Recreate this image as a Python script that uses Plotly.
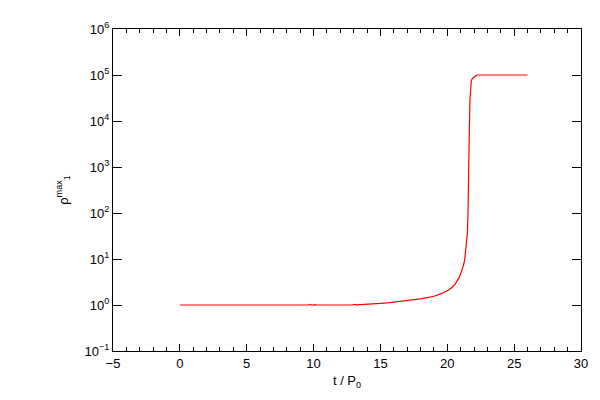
import plotly.graph_objects as go

t = [0.0, 1.3, 1.4, 1.5, 5.0, 9.6, 9.75, 9.9, 10.05, 10.2, 12.9, 13.05, 13.2, 14.0, 15.0, 15.5, 16.0, 16.5,
     17.0, 17.5, 18.0, 18.5, 19.0, 19.5, 20.0, 20.3, 20.6, 20.9, 21.1, 21.2, 21.3, 21.4,
     21.5, 21.55, 21.6, 21.65, 21.7, 21.75, 21.8, 21.9, 22.0, 22.1, 22.2, 26.0]
rho = [1.0, 1.0, 0.985, 1.0, 1.0, 1.0, 1.03, 0.99, 1.02, 1.0, 1.0, 1.03, 1.01, 1.03, 1.08, 1.11, 1.15, 1.2,
       1.25, 1.3, 1.36, 1.45, 1.55, 1.74, 2.04, 2.34, 2.88, 3.98, 5.6, 7.1, 9.5, 17.8,
       35.5, 100.0, 400.0, 6300.0, 31600.0, 63000.0, 76000.0, 85000.0, 91000.0, 95500.0, 100000.0, 100000.0]

y_tickvals = [1e-1, 1e0, 1e1, 1e2, 1e3, 1e4, 1e5, 1e6]
y_ticktext = ["10<sup>\u22121</sup>", "10<sup>0</sup>", "10<sup>1</sup>", "10<sup>2</sup>",
              "10<sup>3</sup>", "10<sup>4</sup>", "10<sup>5</sup>", "10<sup>6</sup>"]

font = dict(family="Liberation Sans, Arial, sans-serif", size=13, color="black")

fig = go.Figure()
fig.add_trace(go.Scatter(x=t, y=rho, mode="lines", line=dict(color="red", width=1.2), showlegend=False))

fig.update_layout(
    width=592, height=392,
    margin=dict(l=105, r=16, t=15, b=49),
    paper_bgcolor="white", plot_bgcolor="white",
    font=font,
    xaxis=dict(
        range=[-5, 30], tickmode="linear", tick0=0, dtick=5,
        ticks="inside", ticklen=7, tickwidth=1, tickcolor="black",
        minor=dict(dtick=1, ticks="inside", ticklen=4, tickwidth=1, tickcolor="black"),
        showline=True, linecolor="black", linewidth=1, mirror="ticks",
        showgrid=False, zeroline=False,
        title=dict(text="t / P<sub>0</sub>", font=font, standoff=6),
    ),
    yaxis=dict(
        type="log", range=[-1, 6], tickvals=y_tickvals, ticktext=y_ticktext,
        ticks="inside", ticklen=9, tickwidth=1, tickcolor="black",
        showline=True, linecolor="black", linewidth=1, mirror="ticks",
        showgrid=False, zeroline=False,
        title=dict(text="\u03c1<sup>max</sup><sub>1</sub>", font=font, standoff=13),
    ),
)

fig.write_html("out.html")
